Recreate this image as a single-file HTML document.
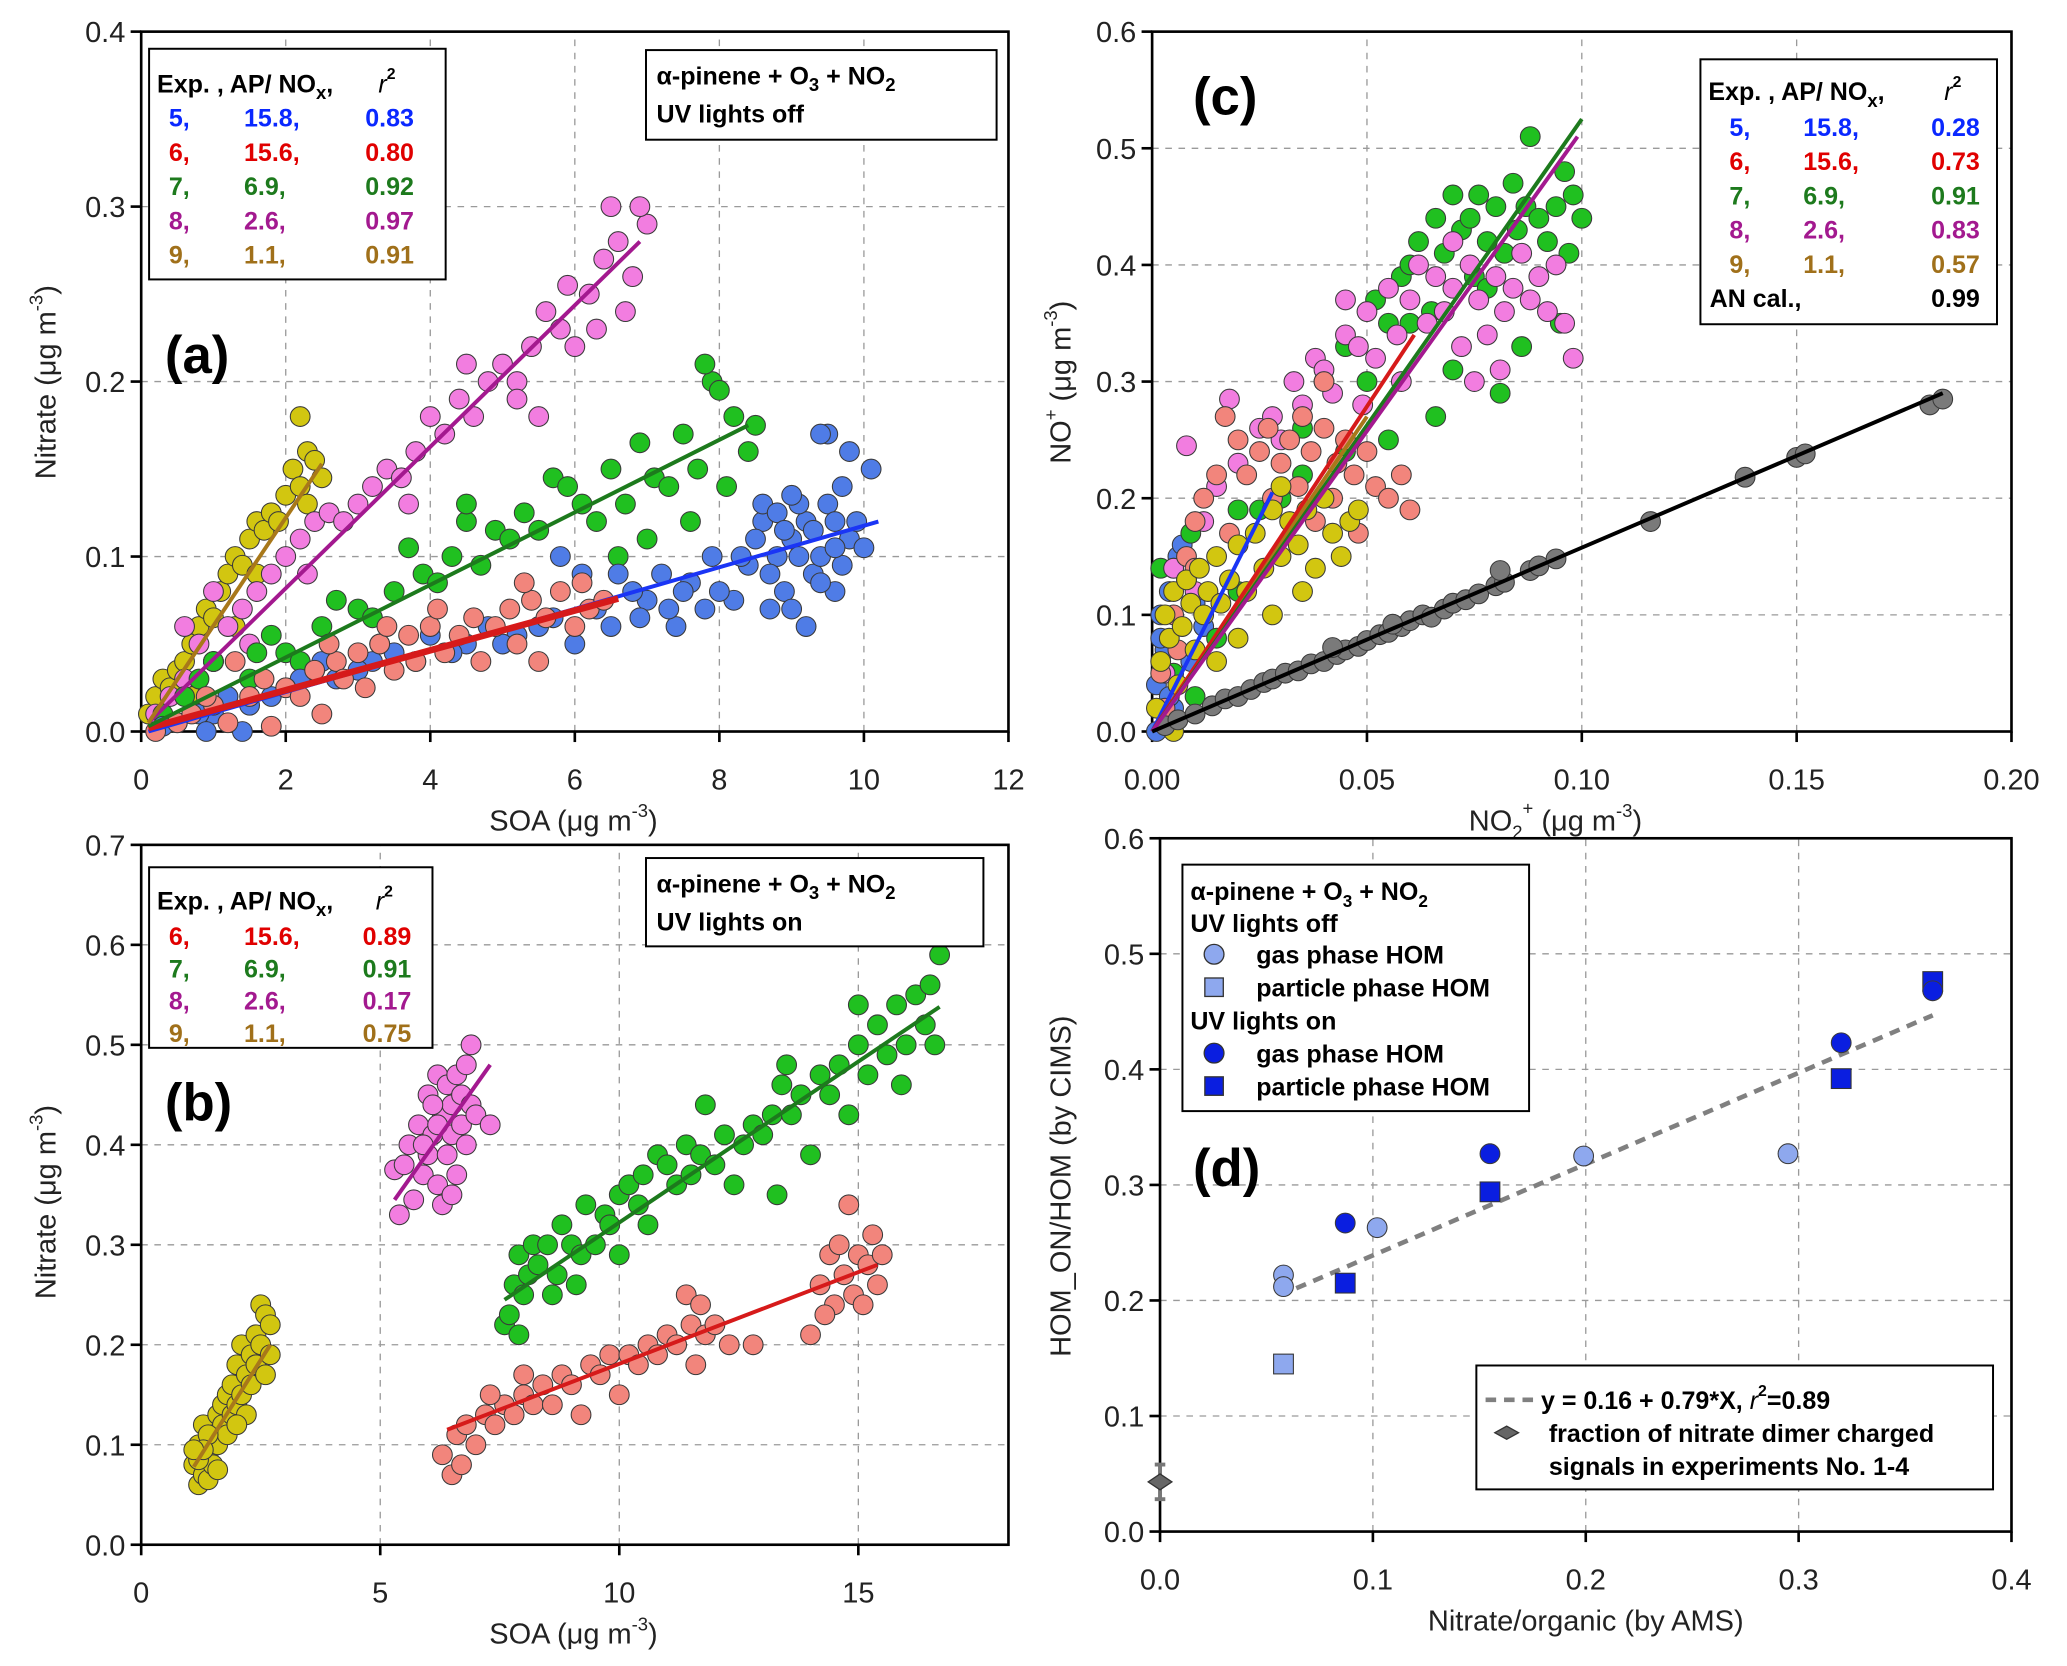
<!DOCTYPE html>
<html><head><meta charset="utf-8">
<style>
html,body{margin:0;padding:0;background:#fff;}
svg{display:block;font-family:"Liberation Sans Narrow","Liberation Sans",sans-serif;}
.t{font-size:22px;fill:#222;}
.lg{font-size:19px;font-weight:bold;}
.pl{font-size:40px;font-weight:bold;font-family:"Liberation Sans",sans-serif;}
</style></head>
<body>
<svg id="fig" width="2067" height="1666" viewBox="0 0 1568 1264" xmlns="http://www.w3.org/2000/svg"></svg>
<script>
// ---- Panel (a) data: SOA vs nitrate, UV off ----
const a5=[[9.0,0.11],[9.2,0.12],[8.8,0.10],[9.5,0.13],[9.3,0.09],[8.6,0.12],[9.8,0.11],[9.1,0.13],[8.9,0.08],[9.4,0.10],[9.6,0.12],[8.7,0.09],[9.0,0.07],[9.7,0.14],[8.5,0.11],[9.2,0.06],[9.9,0.12],[10.1,0.15],[9.5,0.17],[9.8,0.16],[9.4,0.17],[9.6,0.08],[8.4,0.095],[8.2,0.075],[8.0,0.08],[7.8,0.07],[7.6,0.085],[7.4,0.06],[7.2,0.09],[7.0,0.075],[6.8,0.08],[6.5,0.06],[6.3,0.07],[6.1,0.09],[6.0,0.05],[5.7,0.065],[5.5,0.06],[5.2,0.055],[5.0,0.05],[4.8,0.06],[4.5,0.05],[4.3,0.045],[4.0,0.055],[3.8,0.04],[3.5,0.045],[3.2,0.04],[3.0,0.035],[2.7,0.03],[2.5,0.04],[2.2,0.03],[2.0,0.025],[1.8,0.02],[1.5,0.015],[1.2,0.02],[1.0,0.01],[0.8,0.01],[0.5,0.005],[0.3,0.003],[1.4,0.0],[0.9,0.0],[6.6,0.09],[5.8,0.1],[8.6,0.13],[9.0,0.135],[9.3,0.115],[8.3,0.10],[7.9,0.1],[7.5,0.08],[7.3,0.07],[6.9,0.065],[9.7,0.095],[10.0,0.105],[8.8,0.125],[9.1,0.1],[8.9,0.115],[9.4,0.085],[8.7,0.07],[9.6,0.105]];
const a6=[[0.2,0],[0.5,0.005],[0.7,0.01],[1.0,0.015],[1.2,0.005],[1.5,0.02],[1.7,0.03],[1.8,0.003],[2.0,0.025],[2.2,0.02],[2.4,0.035],[2.5,0.01],[2.7,0.04],[2.8,0.03],[3.0,0.045],[3.1,0.025],[3.3,0.05],[3.5,0.035],[3.7,0.055],[3.8,0.04],[4.0,0.06],[4.2,0.045],[4.4,0.055],[4.6,0.065],[4.7,0.04],[4.9,0.06],[5.1,0.07],[5.2,0.05],[5.4,0.075],[5.5,0.04],[5.6,0.065],[5.8,0.08],[6.0,0.06],[6.2,0.07],[6.4,0.075],[5.3,0.085],[4.1,0.07],[3.4,0.06],[2.6,0.05],[1.3,0.04],[0.9,0.02],[6.1,0.085]];
const a7=[[0.3,0.01],[0.6,0.02],[0.8,0.03],[1.0,0.04],[1.2,0.02],[1.5,0.03],[1.8,0.055],[2.0,0.045],[2.2,0.04],[2.5,0.06],[2.7,0.075],[3.0,0.07],[3.2,0.065],[3.5,0.08],[3.7,0.105],[3.9,0.09],[4.1,0.085],[4.3,0.1],[4.5,0.12],[4.7,0.095],[4.9,0.115],[5.1,0.11],[5.3,0.125],[5.5,0.115],[5.7,0.145],[5.9,0.14],[6.1,0.13],[6.3,0.12],[6.5,0.15],[6.7,0.13],[6.9,0.165],[7.1,0.145],[7.3,0.14],[7.5,0.17],[7.7,0.15],[7.9,0.2],[7.8,0.21],[8.0,0.195],[8.2,0.18],[8.4,0.16],[8.5,0.175],[7.6,0.12],[7.0,0.11],[6.6,0.1],[8.1,0.14],[4.5,0.13],[3.3,0.05],[2.4,0.035],[1.6,0.045]];
const a8=[[0.2,0.01],[0.4,0.02],[0.6,0.03],[0.8,0.05],[1.0,0.04],[1.2,0.06],[1.4,0.07],[1.6,0.08],[1.8,0.09],[2.0,0.1],[2.2,0.11],[2.4,0.12],[2.6,0.125],[2.8,0.12],[3.0,0.13],[3.2,0.14],[3.4,0.15],[3.6,0.145],[3.8,0.16],[4.0,0.18],[4.2,0.17],[4.4,0.19],[4.6,0.18],[4.8,0.2],[5.0,0.21],[5.2,0.2],[5.4,0.22],[5.6,0.24],[5.8,0.23],[6.0,0.22],[6.2,0.25],[6.4,0.27],[6.6,0.28],[6.8,0.26],[7.0,0.29],[6.5,0.3],[6.9,0.3],[6.7,0.24],[6.3,0.23],[5.5,0.18],[5.2,0.19],[3.7,0.13],[2.3,0.09],[1.5,0.05],[1.0,0.08],[0.6,0.06],[4.5,0.21],[5.9,0.255]];
const a9=[[0.1,0.01],[0.2,0.02],[0.3,0.03],[0.4,0.025],[0.5,0.035],[0.6,0.04],[0.7,0.05],[0.8,0.06],[0.9,0.07],[1.0,0.065],[1.1,0.08],[1.2,0.09],[1.3,0.1],[1.4,0.095],[1.5,0.11],[1.6,0.12],[1.7,0.115],[1.8,0.125],[1.9,0.12],[2.0,0.135],[2.1,0.15],[2.2,0.14],[2.3,0.16],[2.2,0.18],[2.4,0.155],[2.5,0.145],[1.0,0.04],[0.7,0.02],[1.3,0.06],[1.6,0.09],[0.3,0.005],[2.3,0.13]];
const aFits=[[0.1,0.0,10.2,0.12],[0.1,0.002,6.6,0.076],[0.1,0.003,8.4,0.175],[0.1,0.005,6.9,0.28],[0.1,0.005,2.5,0.153]];
// ---- Panel (b) data: UV on ----
const b9=[[1.1,0.08],[1.2,0.06],[1.2,0.1],[1.3,0.07],[1.3,0.12],[1.4,0.09],[1.4,0.065],[1.5,0.11],[1.5,0.08],[1.6,0.13],[1.6,0.1],[1.7,0.12],[1.7,0.14],[1.8,0.11],[1.8,0.15],[1.9,0.13],[1.9,0.16],[2.0,0.14],[2.0,0.18],[2.1,0.15],[2.1,0.2],[2.2,0.17],[2.2,0.13],[2.3,0.19],[2.3,0.16],[2.4,0.21],[2.4,0.18],[2.5,0.24],[2.5,0.2],[2.6,0.23],[2.6,0.17],[2.7,0.22],[2.7,0.19],[1.2,0.085],[1.4,0.11],[1.3,0.095],[1.6,0.075],[2.0,0.12],[1.1,0.095]];
const b8=[[5.3,0.375],[5.4,0.33],[5.5,0.38],[5.6,0.4],[5.7,0.345],[5.8,0.42],[5.9,0.37],[6.0,0.45],[6.0,0.39],[6.1,0.41],[6.2,0.47],[6.2,0.36],[6.3,0.43],[6.3,0.34],[6.4,0.46],[6.4,0.39],[6.5,0.41],[6.5,0.44],[6.6,0.37],[6.6,0.47],[6.7,0.42],[6.7,0.45],[6.8,0.4],[6.8,0.48],[6.9,0.44],[6.9,0.5],[7.0,0.43],[6.1,0.44],[5.9,0.4],[7.3,0.42],[6.5,0.35],[6.2,0.42]];
const b7=[[7.6,0.22],[7.7,0.23],[7.8,0.26],[7.9,0.21],[8.0,0.25],[7.9,0.29],[8.1,0.27],[8.2,0.3],[8.3,0.28],[8.5,0.3],[8.6,0.25],[8.7,0.27],[8.8,0.32],[9.0,0.3],[9.1,0.26],[9.2,0.29],[9.3,0.34],[9.5,0.3],[9.7,0.33],[9.8,0.32],[10.0,0.35],[10.0,0.29],[10.2,0.36],[10.4,0.34],[10.5,0.37],[10.6,0.32],[10.8,0.39],[11.0,0.38],[11.2,0.36],[11.4,0.4],[11.5,0.37],[11.7,0.39],[12.0,0.38],[12.2,0.41],[12.4,0.36],[12.6,0.4],[12.8,0.42],[13.0,0.41],[13.2,0.43],[13.3,0.35],[13.4,0.46],[13.6,0.43],[13.8,0.45],[14.0,0.39],[14.2,0.47],[14.4,0.45],[14.6,0.48],[14.8,0.43],[15.0,0.5],[15.2,0.47],[15.4,0.52],[15.6,0.49],[15.8,0.54],[16.0,0.5],[16.2,0.55],[16.4,0.52],[16.6,0.5],[16.7,0.59],[16.5,0.56],[15.9,0.46],[15.0,0.54],[11.8,0.44],[13.5,0.48]];
const b6=[[6.3,0.09],[6.5,0.07],[6.6,0.11],[6.7,0.08],[6.8,0.12],[7.0,0.1],[7.2,0.13],[7.4,0.12],[7.6,0.14],[7.8,0.13],[8.0,0.15],[8.2,0.14],[8.4,0.16],[8.6,0.14],[8.8,0.17],[9.0,0.16],[9.2,0.13],[9.4,0.18],[9.6,0.17],[9.8,0.19],[10.0,0.15],[10.2,0.19],[10.4,0.18],[10.6,0.2],[10.8,0.19],[11.0,0.21],[11.2,0.2],[11.4,0.25],[11.5,0.22],[11.6,0.18],[11.7,0.24],[11.8,0.21],[12.0,0.22],[12.3,0.2],[12.8,0.2],[14.0,0.21],[14.2,0.26],[14.4,0.29],[14.5,0.24],[14.6,0.3],[14.7,0.27],[14.8,0.34],[14.9,0.25],[15.0,0.29],[15.1,0.24],[15.2,0.28],[15.3,0.31],[15.4,0.26],[15.5,0.29],[14.3,0.23],[8.0,0.17],[7.3,0.15]];
const bFits=[[6.4,0.115,15.4,0.28],[7.6,0.245,16.7,0.538],[5.3,0.345,7.3,0.48],[1.1,0.078,2.7,0.2]];
// ---- Panel (c) data: NO2+ vs NO+ ----
const c5=[[0.001,0.0],[0.001,0.04],[0.002,0.1],[0.003,0.07],[0.004,0.12],[0.005,0.02],[0.006,0.15],[0.007,0.16],[0.008,0.13],[0.01,0.11],[0.012,0.09],[0.009,0.06],[0.002,0.08],[0.005,0.14],[0.004,0.03]];
const c7=[[0.002,0.14],[0.005,0.05],[0.01,0.03],[0.015,0.08],[0.02,0.12],[0.025,0.19],[0.03,0.2],[0.035,0.26],[0.04,0.3],[0.045,0.33],[0.05,0.3],[0.052,0.37],[0.055,0.35],[0.058,0.39],[0.06,0.4],[0.062,0.42],[0.065,0.36],[0.066,0.44],[0.068,0.41],[0.07,0.46],[0.07,0.31],[0.072,0.43],[0.074,0.44],[0.075,0.39],[0.076,0.46],[0.078,0.42],[0.08,0.45],[0.081,0.29],[0.082,0.41],[0.084,0.47],[0.085,0.43],[0.087,0.45],[0.088,0.51],[0.09,0.44],[0.092,0.42],[0.094,0.45],[0.095,0.35],[0.096,0.48],[0.097,0.41],[0.098,0.46],[0.1,0.44],[0.086,0.33],[0.066,0.27],[0.055,0.25],[0.045,0.24],[0.035,0.22],[0.009,0.17],[0.02,0.19],[0.06,0.35],[0.078,0.38]];
const c8=[[0.008,0.245],[0.012,0.18],[0.015,0.21],[0.018,0.285],[0.02,0.23],[0.025,0.26],[0.028,0.27],[0.03,0.25],[0.033,0.3],[0.035,0.28],[0.038,0.32],[0.04,0.31],[0.042,0.29],[0.045,0.34],[0.048,0.33],[0.05,0.36],[0.052,0.32],[0.055,0.38],[0.057,0.34],[0.06,0.37],[0.062,0.4],[0.064,0.35],[0.066,0.39],[0.068,0.36],[0.07,0.38],[0.072,0.33],[0.074,0.4],[0.076,0.37],[0.078,0.34],[0.08,0.39],[0.082,0.36],[0.084,0.38],[0.086,0.41],[0.088,0.37],[0.09,0.39],[0.092,0.36],[0.094,0.4],[0.096,0.35],[0.098,0.32],[0.081,0.31],[0.058,0.3],[0.049,0.28],[0.075,0.3],[0.07,0.42],[0.045,0.37],[0.003,0.05],[0.005,0.14],[0.01,0.12]];
const c6=[[0.002,0.05],[0.005,0.1],[0.008,0.15],[0.01,0.18],[0.012,0.2],[0.015,0.22],[0.017,0.27],[0.02,0.25],[0.022,0.22],[0.025,0.24],[0.027,0.26],[0.03,0.23],[0.032,0.25],[0.034,0.21],[0.035,0.27],[0.037,0.24],[0.04,0.26],[0.042,0.2],[0.043,0.23],[0.045,0.25],[0.047,0.22],[0.05,0.24],[0.052,0.21],[0.055,0.2],[0.058,0.22],[0.06,0.19],[0.048,0.17],[0.04,0.3],[0.038,0.18],[0.028,0.2],[0.018,0.17],[0.01,0.14],[0.006,0.07],[0.003,0.02]];
const c9=[[0.001,0.02],[0.002,0.06],[0.003,0.1],[0.004,0.08],[0.005,0.12],[0.006,0.04],[0.007,0.09],[0.008,0.13],[0.009,0.11],[0.01,0.07],[0.011,0.14],[0.012,0.1],[0.013,0.12],[0.015,0.15],[0.016,0.11],[0.018,0.13],[0.02,0.16],[0.022,0.12],[0.024,0.17],[0.026,0.14],[0.028,0.19],[0.03,0.15],[0.032,0.18],[0.034,0.16],[0.036,0.19],[0.038,0.14],[0.04,0.2],[0.042,0.17],[0.044,0.15],[0.046,0.18],[0.048,0.19],[0.03,0.21],[0.028,0.1],[0.005,0.0],[0.02,0.08],[0.015,0.06],[0.035,0.12]];
const cAN=[[0.003,0.005],[0.006,0.01],[0.01,0.015],[0.014,0.022],[0.017,0.028],[0.02,0.03],[0.023,0.036],[0.026,0.042],[0.028,0.045],[0.031,0.05],[0.034,0.052],[0.037,0.058],[0.04,0.06],[0.043,0.066],[0.045,0.07],[0.048,0.073],[0.05,0.078],[0.053,0.083],[0.055,0.085],[0.058,0.09],[0.06,0.095],[0.063,0.1],[0.065,0.098],[0.068,0.105],[0.07,0.11],[0.073,0.113],[0.076,0.118],[0.08,0.125],[0.082,0.128],[0.088,0.138],[0.09,0.142],[0.094,0.148],[0.116,0.18],[0.138,0.218],[0.15,0.235],[0.152,0.238],[0.181,0.28],[0.184,0.285],[0.042,0.072],[0.056,0.092],[0.081,0.138]];
const cFits=[[0,0,0.028,0.205],[0,0,0.05,0.27],[0,0,0.061,0.34],[0,0,0.1,0.525],[0,0,0.099,0.51],[0,0,0.184,0.29]];
// ---- Panel (d) data ----
const dOffGas=[[0.058,0.222],[0.058,0.212],[0.102,0.263],[0.199,0.325],[0.295,0.327]];
const dOffPart=[[0.058,0.145]];
const dOnGas=[[0.087,0.267],[0.155,0.327],[0.32,0.423],[0.363,0.468]];
const dOnPart=[[0.087,0.215],[0.155,0.294],[0.32,0.392],[0.363,0.476]];
const dFitCoef=[0.16,0.79];
const dFitRange=[0.064,0.363];
const dDimer=[0,0.043,0.015];

const NS='http://www.w3.org/2000/svg';
const svg=document.getElementById('fig');
function mk(tag,attrs,parent){const e=document.createElementNS(NS,tag);for(const k in attrs)e.setAttribute(k,attrs[k]);(parent||svg).appendChild(e);return e;}
function txt(parent,x,y,s,cls,extra){const e=mk('text',Object.assign({x:x,y:y,class:cls||'t'},extra||{}),parent);e.innerHTML=s;return e;}

function makePanel(P,name){
  const g=mk('g',{});
  
  
  P.sx=v=>P.x0+(v-P.xmin)/(P.xmax-P.xmin)*(P.x1-P.x0);
  P.sy=v=>P.y0-(v-P.ymin)/(P.ymax-P.ymin)*(P.y0-P.y1);
  const grid=mk('g',{stroke:'#9a9a9a','stroke-width':1,'stroke-dasharray':'5,5'},g);
  
  
  P.xt.forEach(v=>{const x=P.sx(v);if(x>P.x0+2&&x<P.x1-2)mk('line',{x1:x,x2:x,y1:P.y0,y2:P.y1},grid);});
  P.yt.forEach(v=>{const y=P.sy(v);if(y<P.y0-2&&y>P.y1+2)mk('line',{x1:P.x0,x2:P.x1,y1:y,y2:y},grid);});
  const xa=mk('g',{},g);
  
  
  P.xt.forEach(v=>{const x=P.sx(v);mk('line',{x1:x,x2:x,y1:P.y0,y2:P.y0+8,stroke:'#000','stroke-width':2},xa);
    const t=txt(xa,x,P.y0+44,P.xf(v),'t',{'text-anchor':'middle'});
    
    });
  const ya=mk('g',{},g);
  
  
  P.yt.forEach(v=>{const y=P.sy(v);mk('line',{x1:P.x0-8,x2:P.x0,y1:y,y2:y,stroke:'#000','stroke-width':2},ya);
    const t=txt(ya,P.x0-12,y+8,v.toFixed(1),'t',{'text-anchor':'end'});
    
    });
  const fr=mk('rect',{x:P.x0,y:P.y1,width:P.x1-P.x0,height:P.y0-P.y1,fill:'none',stroke:'#000','stroke-width':2},g);
  
  
  P.g=g;
  return P;
}
function scatter(P,data,fill,name,r){
  const g=mk('g',{fill:fill,stroke:'#3a3a3a','stroke-width':0.8},P.g);
  
  
  data.forEach(d=>{mk('circle',{cx:P.sx(d[0]),cy:P.sy(d[1]),r:r||7.5},g);});
}
function fit(P,f,color,name,w){
  const l=mk('line',{x1:P.sx(f[0]),y1:P.sy(f[1]),x2:P.sx(f[2]),y2:P.sy(f[3]),stroke:color,'stroke-width':w||3},P.g);
  
  
}
const FB='#4f7ce6',FR='#f2857c',FG='#20c020',FP='#f27de0',FY='#d2c610',FK='#7a7a7a';
const LB='#1a35f5',LR='#d61a1a',LG='#1d7a1d',LP='#a3198f',LY='#a8781a';
const TB='#0a28ff',TR='#e00000',TG='#1d7a1d',TP='#a3198f',TY='#a0701a';

function legendTable(parent,bx,by,bw,bh,rows,headerY,rowY0,dy,cols){
  const g=mk('g',{},parent);
  
  
  mk('rect',{x:bx,y:by,width:bw,height:bh,fill:'#fff',stroke:'#000','stroke-width':1.5},g);
  txt(g,bx+6,headerY,'Exp. , AP/ NO<tspan font-size="14" dy="5">x</tspan><tspan dy="-5">,</tspan>','lg');
  txt(g,cols[2]+10,headerY,'<tspan font-style="italic" font-weight="normal">r</tspan><tspan font-size="12" dy="-10">2</tspan>','lg');
  rows.forEach((r,i)=>{const y=rowY0+i*dy;
    const e=txt(g,cols[0],y,r[0],'lg',{fill:r[3]});
    
    
    txt(g,cols[1],y,r[1],'lg',{fill:r[3]});txt(g,cols[2],y,r[2],'lg',{fill:r[3]});});
  return g;
}
function titleBox(parent,x,y,w,h,l2){
  const g=mk('g',{},parent);
  
  
  mk('rect',{x:x,y:y,width:w,height:h,fill:'#fff',stroke:'#000','stroke-width':1.5},g);
  txt(g,x+8,y+26,'α-pinene + O<tspan font-size="14" dy="5">3</tspan><tspan dy="-5"> + NO</tspan><tspan font-size="14" dy="5">2</tspan>','lg',{'font-size':21});
  txt(g,x+8,y+55,l2,'lg',{'font-size':21});
}
function axisTitles(P,xl,xlx,ylab,ylx,yly){
  const a=txt(P.g,xlx,P.y0+75,xl,'t',{'text-anchor':'middle'});
  
  
  const rg=mk('g',{transform:'translate('+ylx+','+yly+') rotate(-90)'},P.g);
  const b=txt(rg,0,0,ylab,'t',{'text-anchor':'middle'});
  
  
}
const up='<tspan font-size="14" dy="-10">-3</tspan><tspan dy="10">)</tspan>';

// Panel A
const A=makePanel({x0:107,x1:765,y0:555,y1:24,xmin:0,xmax:12,ymin:0,ymax:0.4,xt:[0,2,4,6,8,10,12],yt:[0,0.1,0.2,0.3,0.4],xf:v=>String(v)},'panel-a');
scatter(A,a9,FY,'series-exp9');scatter(A,a8,FP,'series-exp8');scatter(A,a7,FG,'series-exp7');scatter(A,a5,FB,'series-exp5');scatter(A,a6,FR,'series-exp6');
fit(A,aFits[0],LB,'fit-exp5');fit(A,aFits[1],LR,'fit-exp6',5);fit(A,aFits[2],LG,'fit-exp7');fit(A,aFits[3],LP,'fit-exp8');fit(A,aFits[4],LY,'fit-exp9');
legendTable(A.g,113,37,225,175,[['5,','15.8,','0.83',TB],['6,','15.6,','0.80',TR],['7,','6.9,','0.92',TG],['8,','2.6,','0.97',TP],['9,','1.1,','0.91',TY]],70,96,26,[128,185,277]);
titleBox(A.g,490,38,266,68,'UV lights off');
txt(A.g,125,283,'(a)','pl');
axisTitles(A,'SOA (μg m'+up,435,'Nitrate (μg m'+up,42,290);

// Panel C
const C=makePanel({x0:874,x1:1526,y0:555,y1:24,xmin:0,xmax:0.2,ymin:0,ymax:0.6,xt:[0,0.05,0.1,0.15,0.2],yt:[0,0.1,0.2,0.3,0.4,0.5,0.6],xf:v=>v.toFixed(2)},'panel-c');
scatter(C,c5,FB,'series-exp5');scatter(C,c7,FG,'series-exp7');scatter(C,c8,FP,'series-exp8');scatter(C,c6,FR,'series-exp6');scatter(C,c9,FY,'series-exp9');scatter(C,cAN,FK,'series-an-cal');
fit(C,cFits[0],LB,'fit-exp5');fit(C,cFits[1],LY,'fit-exp9');fit(C,cFits[2],LR,'fit-exp6');fit(C,cFits[3],LG,'fit-exp7');fit(C,cFits[4],LP,'fit-exp8');fit(C,cFits[5],'#000','fit-an-cal');
legendTable(C.g,1290,45,225,201,[['5,','15.8,','0.28',TB],['6,','15.6,','0.73',TR],['7,','6.9,','0.91',TG],['8,','2.6,','0.83',TP],['9,','1.1,','0.57',TY]],76,103,26,[1312,1368,1465]);
txt(C.g,1297,233,'AN cal.,','lg');txt(C.g,1465,233,'0.99','lg');
txt(C.g,905,87,'(c)','pl');
axisTitles(C,'NO<tspan font-size="14" dy="6">2</tspan><tspan font-size="14" dy="-18">+</tspan><tspan dy="12"> (μg m</tspan>'+up,1180,'NO<tspan font-size="14" dy="-10">+</tspan><tspan dy="10"> (μg m</tspan>'+up,812,290);

// Panel B
const B=makePanel({x0:107,x1:765,y0:1172,y1:641,xmin:0,xmax:18.14,ymin:0,ymax:0.7,xt:[0,5,10,15],yt:[0,0.1,0.2,0.3,0.4,0.5,0.6,0.7],xf:v=>String(v)},'panel-b');
scatter(B,b9,FY,'series-exp9');scatter(B,b8,FP,'series-exp8');scatter(B,b7,FG,'series-exp7');scatter(B,b6,FR,'series-exp6');
fit(B,bFits[0],LR,'fit-exp6');fit(B,bFits[1],LG,'fit-exp7');fit(B,bFits[2],LP,'fit-exp8');fit(B,bFits[3],LY,'fit-exp9');
legendTable(B.g,113,658,215,137,[['6,','15.6,','0.89',TR],['7,','6.9,','0.91',TG],['8,','2.6,','0.17',TP],['9,','1.1,','0.75',TY]],690,717,24.5,[128,185,275]);
titleBox(B.g,490,651,256,67,'UV lights on');
txt(B.g,125,850,'(b)','pl');
axisTitles(B,'SOA (μg m'+up,435,'Nitrate (μg m'+up,42,912);

// Panel D
const D=makePanel({x0:880,x1:1526,y0:1162,y1:636,xmin:0,xmax:0.4,ymin:0,ymax:0.6,xt:[0,0.1,0.2,0.3,0.4],yt:[0,0.1,0.2,0.3,0.4,0.5,0.6],xf:v=>v.toFixed(1)},'panel-d');
const fl=mk('line',{x1:D.sx(dFitRange[0]),y1:D.sy(dFitCoef[0]+dFitCoef[1]*dFitRange[0]),x2:D.sx(dFitRange[1]),y2:D.sy(dFitCoef[0]+dFitCoef[1]*dFitRange[1]),stroke:'#808080','stroke-width':3.5,'stroke-dasharray':'8,6'},D.g);


function sq(P,data,fill,name){const g=mk('g',{fill:fill,stroke:'#333','stroke-width':0.8},P.g);
  
  
  data.forEach(d=>mk('rect',{x:P.sx(d[0])-7.5,y:P.sy(d[1])-7.5,width:15,height:15},g));}
const DL='#8ea8ee',DD='#0a1ee0';
sq(D,dOffPart,DL,'particle-uv-off');scatter(D,dOffGas,DL,'gas-uv-off',7.5);sq(D,dOnPart,DD,'particle-uv-on');scatter(D,dOnGas,DD,'gas-uv-on',7.5);
const dm=mk('g',{},D.g);


const dx=D.sx(dDimer[0]),dy=D.sy(dDimer[1]),de1=D.sy(dDimer[1]+dDimer[2]),de2=D.sy(dDimer[1]-dDimer[2]);
mk('path',{d:`M${dx} ${de1}V${de2}M${dx-4} ${de1}H${dx+4}M${dx-4} ${de2}H${dx+4}`,stroke:'#777','stroke-width':3,fill:'none'},dm);
mk('path',{d:`M${dx-9} ${dy}L${dx} ${dy-6}L${dx+9} ${dy}L${dx} ${dy+6}Z`,fill:'#666',stroke:'#333'},dm);
const lg=mk('g',{},D.g);


mk('rect',{x:897,y:656,width:263,height:187,fill:'#fff',stroke:'#000','stroke-width':1.5},lg);
txt(lg,903,683,'α-pinene + O<tspan font-size="13" dy="5">3</tspan><tspan dy="-5"> + NO</tspan><tspan font-size="13" dy="5">2</tspan>','lg');
txt(lg,903,707,'UV lights off','lg');
mk('circle',{cx:921,cy:724,r:7.5,fill:DL,stroke:'#333'},lg);txt(lg,953,731,'gas phase HOM','lg');
mk('rect',{x:914,y:742,width:14,height:14,fill:DL,stroke:'#333'},lg);txt(lg,953,756,'particle phase HOM','lg');
txt(lg,903,781,'UV lights on','lg');
mk('circle',{cx:921,cy:799,r:7.5,fill:DD,stroke:'#333'},lg);txt(lg,953,806,'gas phase HOM','lg');
mk('rect',{x:914,y:817,width:14,height:14,fill:DD,stroke:'#333'},lg);txt(lg,953,831,'particle phase HOM','lg');
const lg2=mk('g',{},D.g);


mk('rect',{x:1120,y:1036,width:392,height:94,fill:'#fff',stroke:'#000','stroke-width':1.5},lg2);
mk('line',{x1:1127,x2:1165,y1:1062,y2:1062,stroke:'#808080','stroke-width':3.5,'stroke-dasharray':'8,6'},lg2);
txt(lg2,1169,1069,'y = 0.16 + 0.79*X, <tspan font-style="italic" font-weight="normal">r</tspan><tspan font-size="12" dy="-10">2</tspan><tspan dy="10">=0.89</tspan>','lg');
mk('path',{d:'M1134 1087L1143 1082L1152 1087L1143 1092Z',fill:'#666',stroke:'#333'},lg2);
txt(lg2,1175,1094,'fraction of nitrate dimer charged','lg');
txt(lg2,1175,1119,'signals in experiments No. 1-4','lg');
txt(D.g,905,900,'(d)','pl');
axisTitles(D,'Nitrate/organic (by AMS)',1203,'HOM_ON/HOM (by CIMS)',812,900);
</script>
</body></html>
